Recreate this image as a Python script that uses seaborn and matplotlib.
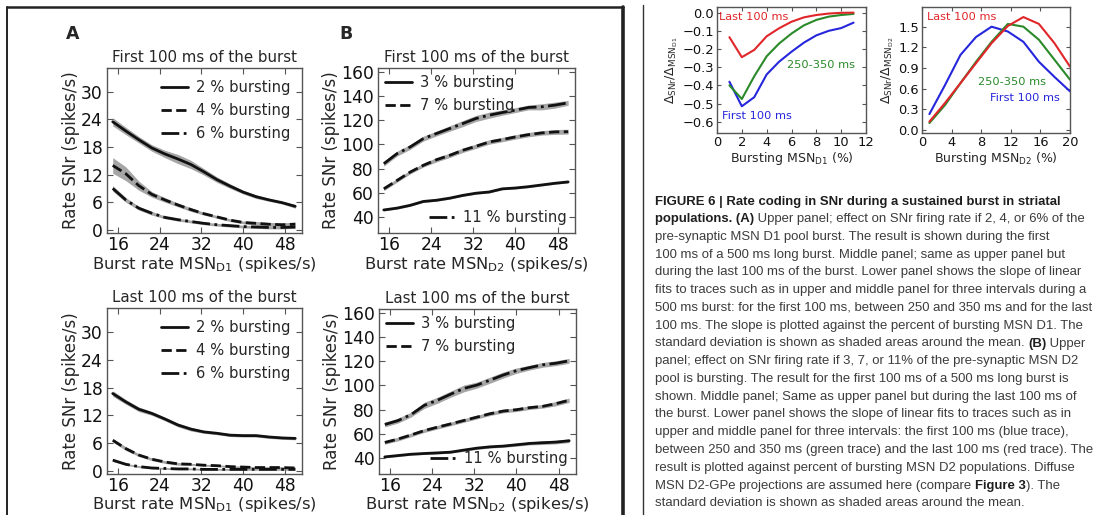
import numpy as np
import pandas as pd
import matplotlib
matplotlib.use("Agg")
import matplotlib.pyplot as plt
from matplotlib.lines import Line2D
import seaborn as sns

# ---------------- data ----------------
burst_rate = [15, 17.5, 20, 22.5, 25, 27.5, 30, 32.5, 35, 37.5, 40, 42.5, 45, 47.5, 50]

# Panel A, first 100 ms (MSN D1)
a_first_2 = [23.5, 21.5, 19.6, 17.8, 16.5, 15.4, 14.2, 12.6, 10.9, 9.5, 8.2, 7.2, 6.5, 5.9, 5.1]
a_first_4 = [14.0, 12.2, 9.6, 7.7, 6.5, 5.4, 4.4, 3.5, 2.8, 2.1, 1.6, 1.4, 1.2, 1.1, 1.2]
a_first_6 = [9.0, 6.5, 4.7, 3.6, 2.7, 2.2, 1.8, 1.4, 1.1, 0.9, 0.7, 0.6, 0.5, 0.5, 0.6]
a_first_2_sd = [0.9, 0.8, 0.7, 0.7, 0.8, 1.0, 0.9, 0.7, 0.6, 0.5, 0.4, 0.4, 0.3, 0.3, 0.4]
a_first_4_sd = [1.7, 1.5, 1.0, 0.6, 0.5, 0.4, 0.4, 0.3, 0.3, 0.3, 0.3, 0.4, 0.4, 0.4, 0.5]
a_first_6_sd = [0.6, 0.5, 0.4, 0.4, 0.3, 0.3, 0.3, 0.3, 0.3, 0.3, 0.3, 0.3, 0.3, 0.3, 0.3]

# Panel A, last 100 ms
a_last_2 = [16.7, 14.9, 13.3, 12.4, 11.2, 9.9, 9.0, 8.4, 8.1, 7.7, 7.6, 7.6, 7.3, 7.1, 7.0]
a_last_4 = [6.6, 4.8, 3.4, 2.5, 1.9, 1.5, 1.4, 1.2, 1.1, 0.9, 0.8, 0.7, 0.7, 0.7, 0.6]
a_last_6 = [2.3, 1.4, 0.9, 0.6, 0.5, 0.4, 0.4, 0.3, 0.3, 0.3, 0.3, 0.3, 0.3, 0.3, 0.3]
a_last_2_sd = [0.6, 0.5, 0.5, 0.4, 0.4, 0.4, 0.4, 0.3, 0.3, 0.3, 0.3, 0.3, 0.3, 0.3, 0.3]
a_last_4_sd = [0.4, 0.4, 0.3, 0.3, 0.3, 0.3, 0.2, 0.2, 0.2, 0.2, 0.2, 0.2, 0.2, 0.2, 0.2]
a_last_6_sd = [0.3, 0.2, 0.2, 0.2, 0.2, 0.2, 0.2, 0.2, 0.2, 0.2, 0.2, 0.2, 0.2, 0.2, 0.2]

# Panel B, first 100 ms (MSN D2)
b_first_3 = [46.0, 47.5, 49.8, 53.0, 54.0, 55.7, 58.0, 59.8, 60.8, 63.4, 64.1, 65.2, 66.6, 68.0, 69.1]
b_first_7 = [63.4, 70.3, 77.2, 82.8, 87.4, 91.0, 95.2, 98.5, 102.0, 104.0, 106.2, 108.1, 109.5, 110.3, 110.5]
b_first_11 = [84.1, 92.4, 97.9, 104.8, 109.0, 113.1, 117.2, 121.4, 124.1, 126.3, 128.3, 130.5, 131.0, 132.4, 134.3]
b_first_3_sd = [0.8, 0.8, 0.8, 0.8, 0.8, 0.8, 0.8, 0.8, 0.8, 0.8, 0.8, 0.8, 0.8, 0.8, 0.8]
b_first_7_sd = [1.5, 1.5, 1.5, 1.5, 1.8, 1.8, 1.8, 1.8, 1.8, 1.8, 1.8, 1.8, 1.8, 2.0, 2.0]
b_first_11_sd = [2.0, 2.0, 2.0, 2.0, 2.0, 2.2, 2.5, 2.5, 2.5, 2.2, 2.0, 2.0, 2.5, 2.5, 2.0]

# Panel B, last 100 ms
b_last_3 = [41.1, 42.2, 43.3, 43.9, 44.4, 45.0, 46.7, 48.3, 49.4, 50.0, 51.1, 52.2, 52.8, 53.3, 54.4]
b_last_7 = [53.0, 55.8, 59.2, 62.8, 65.6, 68.3, 71.1, 73.9, 76.7, 78.9, 80.0, 81.7, 82.8, 85.0, 87.8]
b_last_11 = [67.8, 71.0, 76.0, 83.6, 87.8, 92.8, 97.5, 100.3, 104.4, 108.6, 112.2, 114.7, 117.0, 118.3, 120.3]
b_last_3_sd = [0.8, 0.8, 0.8, 0.8, 0.8, 0.8, 1.0, 1.0, 1.0, 1.0, 1.2, 1.2, 1.5, 1.5, 1.5]
b_last_7_sd = [1.5, 1.5, 1.5, 1.5, 1.5, 1.5, 1.5, 1.5, 1.5, 1.5, 1.5, 1.5, 1.5, 1.8, 1.8]
b_last_11_sd = [2.0, 2.0, 2.0, 2.5, 2.5, 2.5, 2.8, 2.5, 2.5, 2.5, 2.2, 2.0, 2.0, 2.0, 2.0]

# Slope panels
d1_bursting = [1, 2, 3, 4, 5, 6, 7, 8, 9, 10, 11]
d1_first = [-0.38, -0.515, -0.465, -0.34, -0.27, -0.215, -0.165, -0.125, -0.10, -0.085, -0.055]
d1_mid = [-0.40, -0.475, -0.35, -0.24, -0.17, -0.115, -0.07, -0.04, -0.022, -0.013, -0.007]
d1_last = [-0.135, -0.245, -0.205, -0.13, -0.086, -0.05, -0.026, -0.013, -0.005, -0.001, 0.0]

d2_bursting = [1.0, 3.1, 5.2, 7.3, 9.4, 11.6, 13.7, 15.8, 17.9, 20.0]
d2_first = [0.23, 0.65, 1.09, 1.35, 1.50, 1.43, 1.28, 0.99, 0.77, 0.56]
d2_mid = [0.10, 0.36, 0.68, 0.99, 1.28, 1.54, 1.50, 1.31, 1.02, 0.73]
d2_last = [0.12, 0.39, 0.68, 0.97, 1.26, 1.51, 1.64, 1.54, 1.26, 0.92]

caption_lines = [
    [("FIGURE 6 | Rate coding in SNr during a sustained burst in striatal", True)],
    [("populations. (A)", True), (" Upper panel; effect on SNr firing rate if 2, 4, or 6% of the", False)],
    [("pre-synaptic MSN D1 pool burst. The result is shown during the first", False)],
    [("100 ms of a 500 ms long burst. Middle panel; same as upper panel but", False)],
    [("during the last 100 ms of the burst. Lower panel shows the slope of linear", False)],
    [("fits to traces such as in upper and middle panel for three intervals during a", False)],
    [("500 ms burst: for the first 100 ms, between 250 and 350 ms and for the last", False)],
    [("100 ms. The slope is plotted against the percent of bursting MSN D1. The", False)],
    [("standard deviation is shown as shaded areas around the mean. ", False), ("(B)", True), (" Upper", False)],
    [("panel; effect on SNr firing rate if 3, 7, or 11% of the pre-synaptic MSN D2", False)],
    [("pool is bursting. The result for the first 100 ms of a 500 ms long burst is", False)],
    [("shown. Middle panel; Same as upper panel but during the last 100 ms of", False)],
    [("the burst. Lower panel shows the slope of linear fits to traces such as in", False)],
    [("upper and middle panel for three intervals: the first 100 ms (blue trace),", False)],
    [("between 250 and 350 ms (green trace) and the last 100 ms (red trace). The", False)],
    [("result is plotted against percent of bursting MSN D2 populations. Diffuse", False)],
    [("MSN D2-GPe projections are assumed here (compare ", False), ("Figure 3", True), ("). The", False)],
    [("standard deviation is shown as shaded areas around the mean.", False)],
]

# ---------------- style ----------------
sns.set_style("ticks")
plt.rcParams["font.family"] = ["DejaVu Sans"]
plt.rcParams["mathtext.fontset"] = "dejavusans"

W, H = 1099, 515
fig = plt.figure(figsize=(W / 100, H / 100), dpi=100)
fig.patch.set_facecolor("white")

SPINE = "#555555"


def ax_at(l, t, r, b):
    return fig.add_axes([l / W, 1 - b / H, (r - l) / W, (b - t) / H])


def style_axes(ax, labelsize):
    for s in ax.spines.values():
        s.set_color(SPINE)
        s.set_linewidth(1.0)
    ax.tick_params(direction="in", top=True, right=True, length=4, width=0.8,
                   color=SPINE, labelsize=labelsize, pad=3, labelcolor="#111111")


def rate_panel(ax, series, ylim, yticks, title, xlabel, split_legend, xlabelpad):
    x = np.array(burst_rate)
    handles = []
    for name, y, sd, ls in series:
        y = np.array(y)
        sd = np.array(sd)
        ax.fill_between(x, y - sd, y + sd, color="#808080", alpha=0.7, lw=0)
        sns.lineplot(x=burst_rate, y=list(y), ax=ax, color="#111111", lw=2.0,
                     linestyle=ls, legend=False)
        handles.append(Line2D([], [], color="#111111", lw=2.0, linestyle=ls, label=name))
    ax.set_xlim(13.9, 51.3)
    ax.set_ylim(*ylim)
    ax.set_xticks([16, 24, 32, 40, 48])
    ax.set_yticks(yticks)
    style_axes(ax, 12.3)
    ax.tick_params(axis="x", pad=2)
    ax.set_title(title, fontsize=10.8, pad=4)
    ax.set_xlabel(xlabel, fontsize=11.8, labelpad=xlabelpad)
    ax.set_ylabel("Rate SNr (spikes/s)", fontsize=12, labelpad=1)
    kw = dict(frameon=False, fontsize=10.6, handlelength=1.8, handletextpad=0.55,
              labelspacing=0.55, borderpad=0.2)
    if split_legend:
        lg1 = ax.legend(handles=handles[:2], loc="upper left", borderaxespad=0.3, **kw)
        ax.add_artist(lg1)
        ax.legend(handles=handles[2:], loc="lower right", borderaxespad=0.35, **kw)
    else:
        ax.legend(handles=handles, loc="upper right", borderaxespad=0.6, **kw)


xl_d1 = r"Burst rate MSN$_{\mathrm{D1}}$ (spikes/s)"
xl_d2 = r"Burst rate MSN$_{\mathrm{D2}}$ (spikes/s)"

axA1 = ax_at(107, 68, 302, 233)
rate_panel(axA1, [("2 % bursting", a_first_2, a_first_2_sd, "-"),
                  ("4 % bursting", a_first_4, a_first_4_sd, "--"),
                  ("6 % bursting", a_first_6, a_first_6_sd, "-.")],
           (-0.7, 35.2), [0, 6, 12, 18, 24, 30], "First 100 ms of the burst", xl_d1, False, 1)

axA2 = ax_at(107, 308, 302, 474)
rate_panel(axA2, [("2 % bursting", a_last_2, a_last_2_sd, "-"),
                  ("4 % bursting", a_last_4, a_last_4_sd, "--"),
                  ("6 % bursting", a_last_6, a_last_6_sd, "-.")],
           (-0.7, 35.2), [0, 6, 12, 18, 24, 30], "Last 100 ms of the burst", xl_d1, False, 0)

axB1 = ax_at(378, 68, 575, 233)
rate_panel(axB1, [("3 % bursting", b_first_3, b_first_3_sd, "-"),
                  ("7 % bursting", b_first_7, b_first_7_sd, "--"),
                  ("11 % bursting", b_first_11, b_first_11_sd, "-.")],
           (27, 163), [40, 60, 80, 100, 120, 140, 160], "First 100 ms of the burst", xl_d2, True, 1)

axB2 = ax_at(379, 309, 576, 474)
rate_panel(axB2, [("3 % bursting", b_last_3, b_last_3_sd, "-"),
                  ("7 % bursting", b_last_7, b_last_7_sd, "--"),
                  ("11 % bursting", b_last_11, b_last_11_sd, "-.")],
           (27, 163), [40, 60, 80, 100, 120, 140, 160], "Last 100 ms of the burst", xl_d2, True, 0)

fig.text(73 / W, 1 - 34 / H, "A", fontsize=12.5, fontweight="bold", ha="center", va="center")
fig.text(346 / W, 1 - 34 / H, "B", fontsize=12.5, fontweight="bold", ha="center", va="center")

# ---------------- slope panels ----------------
RED, GREEN, BLUE = "#e0262b", "#2a8a2a", "#2626dc"


def slope_panel(ax, xs, first, mid, last, xlim, ylim, xticks, yticks, yfmt, xlabel, ylabel, txt):
    sns.lineplot(x=xs, y=first, ax=ax, color=BLUE, lw=1.5, legend=False)
    sns.lineplot(x=xs, y=mid, ax=ax, color=GREEN, lw=1.5, legend=False)
    sns.lineplot(x=xs, y=last, ax=ax, color=RED, lw=1.5, legend=False)
    ax.set_xlim(*xlim)
    ax.set_ylim(*ylim)
    ax.set_xticks(xticks)
    ax.set_yticks(yticks)
    ax.set_yticklabels([yfmt.format(v).replace("-", "\u2212") for v in yticks])
    style_axes(ax, 9.4)
    ax.tick_params(length=3, pad=2)
    ax.set_xlabel(xlabel, fontsize=9.0, labelpad=1)
    ax.set_ylabel(ylabel, fontsize=9.0, labelpad=2)
    for (tx, ty, s, c) in txt:
        ax.text(tx, ty, s, color=c, fontsize=8.2, transform=ax.transAxes, ha="left", va="center")


axC = ax_at(717, 7, 866, 133)
slope_panel(axC, d1_bursting, d1_first, d1_mid, d1_last, (0, 12), (-0.662, 0.031),
            [0, 2, 4, 6, 8, 10, 12], [0.0, -0.1, -0.2, -0.3, -0.4, -0.5, -0.6], "{:.1f}",
            r"Bursting MSN$_{\mathrm{D1}}$ (%)",
            r"$\Delta_{\mathrm{SNr}}/\Delta_{\mathrm{MSN}_{\mathrm{D1}}}$",
            [(0.013, 0.92, "Last 100 ms", RED), (0.47, 0.54, "250-350 ms", GREEN),
             (0.034, 0.135, "First 100 ms", BLUE)])

axD = ax_at(922, 7, 1070, 133)
slope_panel(axD, d2_bursting, d2_first, d2_mid, d2_last, (0, 20), (-0.045, 1.786),
            [0, 4, 8, 12, 16, 20], [0.0, 0.3, 0.6, 0.9, 1.2, 1.5], "{:.1f}",
            r"Bursting MSN$_{\mathrm{D2}}$ (%)",
            r"$\Delta_{\mathrm{SNr}}/\Delta_{\mathrm{MSN}_{\mathrm{D2}}}$",
            [(0.034, 0.92, "Last 100 ms", RED), (0.378, 0.405, "250-350 ms", GREEN),
             (0.46, 0.278, "First 100 ms", BLUE)])

# ---------------- frame & separator ----------------
fig.add_artist(Line2D([7 / W, 7 / W], [0, 1 - 7 / H], transform=fig.transFigure, color="#222222", lw=1.4))
fig.add_artist(Line2D([7 / W, 623 / W], [1 - 7 / H, 1 - 7 / H], transform=fig.transFigure, color="#222222", lw=1.8))
fig.add_artist(Line2D([623 / W, 623 / W], [0, 1 - 7 / H], transform=fig.transFigure, color="#222222", lw=2.6))
fig.add_artist(Line2D([643 / W, 643 / W], [0, 1 - 5 / H], transform=fig.transFigure, color="#333333", lw=1.0))

# ---------------- caption ----------------
renderer = fig.canvas.get_renderer()
CAP_FONT = ["Liberation Sans", "DejaVu Sans"]


def text_width(s, bold, fs):
    t1 = fig.text(0, 0, "|" + s + "|", fontsize=fs, family=CAP_FONT,
                  fontweight="bold" if bold else "normal")
    t2 = fig.text(0, 0, "||", fontsize=fs, family=CAP_FONT,
                  fontweight="bold" if bold else "normal")
    w = t1.get_window_extent(renderer).width - t2.get_window_extent(renderer).width
    t1.remove()
    t2.remove()
    return w


ref_w = text_width(caption_lines[6][0][0], False, 10.0)
cap_fs = 10.0 * 438.0 / ref_w

x0 = 655.0
y0 = 200.0
dy = 17.75
for i, segs in enumerate(caption_lines):
    x = x0
    yb = y0 + i * dy + 4.5
    for s, bold in segs:
        fig.text(x / W, 1 - yb / H, s, fontsize=cap_fs, family=CAP_FONT,
                 fontweight="bold" if bold else "normal",
                 color="#1e1e1e" if bold else "#3c3c3c", ha="left", va="baseline")
        x += text_width(s, bold, cap_fs)

fig.savefig("out.png", dpi=100, facecolor="white")
